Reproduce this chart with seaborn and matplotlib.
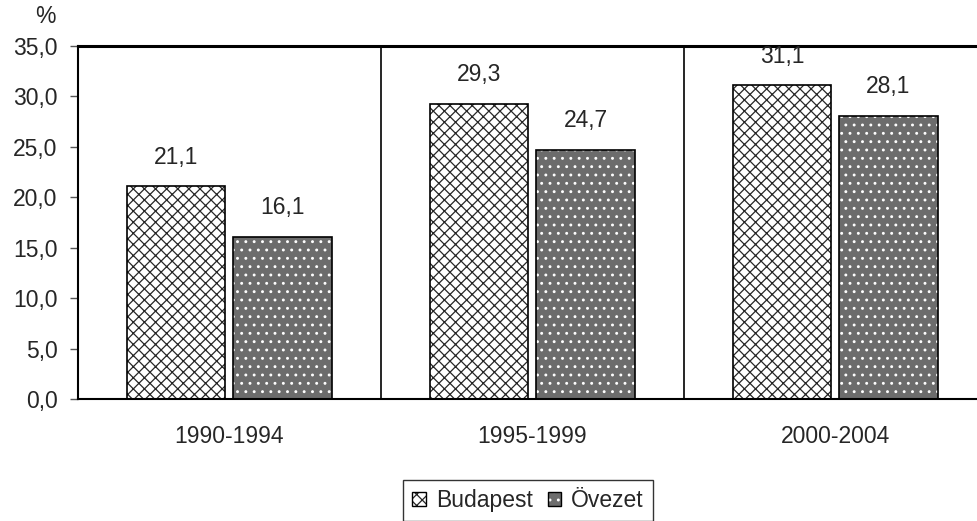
import numpy as np
import pandas as pd
import seaborn as sns
import matplotlib.pyplot as plt
from matplotlib.patches import Patch
from matplotlib.ticker import FuncFormatter, FixedLocator

periods = ["1990-1994", "1995-1999", "2000-2004"]
budapest = [21.1, 29.3, 31.1]
ovezet = [16.1, 24.7, 28.1]
series = ["Budapest", "Övezet"]

df = pd.DataFrame({
    "period": periods * 2,
    "value": budapest + ovezet,
    "series": [series[0]] * 3 + [series[1]] * 3,
})

sns.set_style("white")
plt.rcParams['font.family'] = ['Liberation Sans', 'DejaVu Sans']
plt.rcParams['hatch.linewidth'] = 0.9

FS = 16.5
comma = lambda v: f"{v:.1f}".replace(".", ",")

fig = plt.figure(figsize=(9.77, 5.21), dpi=100)
ax = fig.add_axes([0.0798, 0.234, 0.9304, 0.6776])

sns.barplot(data=df, x="period", y="value", hue="series", hue_order=series,
            order=periods, width=0.70, gap=0.075, legend=False, ax=ax)

styles = [dict(facecolor="white", hatch="xxx", hcolor=(0.15, 0.15, 0.15, 1)),
          dict(facecolor="#6c6c6c", hatch="..", hcolor=(1, 1, 1, 1))]


def style_patch(p, st):
    p.set_facecolor(st["facecolor"])
    p.set_edgecolor("black")
    p.set_hatch(st["hatch"])
    p._hatch_color = st["hcolor"]


for cont, st in zip(ax.containers, styles):
    for bar, v in zip(cont, cont.datavalues):
        style_patch(bar, st)
        bar.set_linewidth(1.2)
        ax.annotate(comma(v), (bar.get_x() + bar.get_width() / 2, v),
                    xytext=(0, 21), textcoords="offset points",
                    ha="center", va="center", fontsize=FS)

ax.set_xlim(-0.5, 2.5)
ax.set_ylim(0, 35)
ax.set_yticks(np.arange(0, 36, 5))
ax.yaxis.set_major_formatter(FuncFormatter(lambda v, p: comma(v)))
ax.xaxis.set_minor_locator(FixedLocator([-0.5, 0.5, 1.5, 2.5]))
ax.tick_params(axis="x", which="major", length=0, pad=19, labelsize=FS)
ax.tick_params(axis="x", which="minor", length=5.8, width=1, color="black", direction="out")
ax.tick_params(axis="y", length=5.8, width=1, color="#555555", direction="out",
               pad=9, labelsize=FS, left=True)
for x in [0.5, 1.5]:
    ax.axvline(x, color="black", lw=1.2, zorder=0)

ax.set_xlabel("")
ax.set_ylabel("")
for s in ["left", "bottom"]:
    ax.spines[s].set_color("black")
    ax.spines[s].set_linewidth(1.5)
ax.spines["top"].set_color("black")
ax.spines["top"].set_linewidth(2.2)
ax.spines["right"].set_visible(False)

fig.text(0.046, 0.968, "%", ha="center", va="center", fontsize=FS)

handles = []
for st, s in zip(styles, series):
    h = Patch(label=s)
    style_patch(h, st)
    handles.append(h)
leg = fig.legend(handles=handles, loc="upper center", bbox_to_anchor=(0.5404, 0.0787),
                 ncol=2, frameon=True, fancybox=False, fontsize=FS,
                 handlelength=0.6, handleheight=0.6, handletextpad=0.43,
                 columnspacing=0.65, borderpad=0.4, borderaxespad=0)
leg.get_frame().set_edgecolor("black")
leg.get_frame().set_linewidth(1.0)

fig.savefig("out.png", dpi=100)
